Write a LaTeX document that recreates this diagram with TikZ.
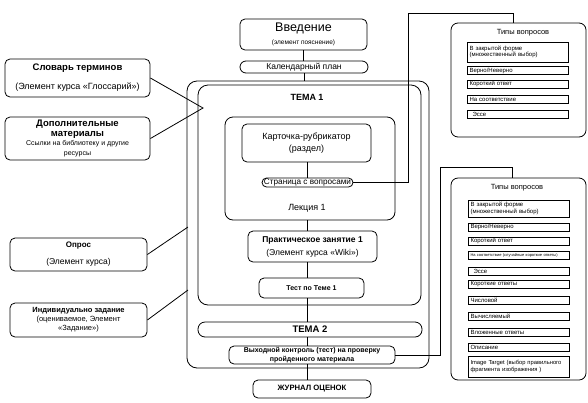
\documentclass[tikz,border=0pt]{standalone}
\usepackage{fontspec}
\setmainfont{Liberation Sans}

\tikzset{
  blok/.style={draw, rounded corners=5pt, line width=0.8pt, align=center, inner sep=0pt},
  ramka/.style={draw, rounded corners=10pt, line width=0.8pt, inner sep=0pt},
  punkt/.style={draw, line width=0.9pt, minimum width=101pt, minimum height=8pt, text width=96pt,
    inner xsep=2.5pt, inner ysep=0pt, align=left, font=\fontsize{6}{6.6}\selectfont},
}

\begin{document}
\begin{tikzpicture}[x=1pt, y=-1pt, line width=0.8pt]
\useasboundingbox (0,0) rectangle (588,402);

% Course frame, Tema 1, lecture
\node[ramka, minimum width=242, minimum height=287] (kurs) at (308,224.5) {};
\node[ramka, minimum width=223, minimum height=220] (tema1) at (309.5,195) {};
\node[font=\bfseries\fontsize{9}{10}\selectfont] (tema1txt) at (307,97) {ТЕМА 1};
\node[ramka, rounded corners=8pt, minimum width=170, minimum height=103] (lect) at (310,168.5) {};
\node[font=\fontsize{9}{10}\selectfont] (lecttxt) at (307,208) {Лекция 1};

% Main column
\node[blok, minimum width=127, minimum height=31] (vved) at (303.5,34.5)
  {{\fontsize{12.5}{13}\selectfont Введение}\\[1pt]{\fontsize{6.5}{7}\selectfont (элемент пояснение)}};
\node[blok, rounded corners=6pt, minimum width=128, minimum height=12, font=\fontsize{8.5}{9}\selectfont] (kal) at (304,67) {Календарный план};
\node[blok, minimum width=129, minimum height=38, font=\fontsize{9}{12}\selectfont] (kart) at (306.5,143) {Карточка-рубрикатор\\(раздел)};
\node[blok, rounded corners=4.5pt, minimum width=91, minimum height=9, font=\fontsize{8.2}{8.5}\selectfont] (stran) at (307.5,182.5) {Страница с вопросами};
\node[blok, minimum width=129, minimum height=31, font=\fontsize{8.5}{12}\selectfont] (prakt) at (312.5,246.5)
  {{\bfseries Практическое занятие 1}\\[1pt]{(Элемент курса «Wiki»)}};
\node[blok, minimum width=105, minimum height=20, font=\bfseries\fontsize{7}{8}\selectfont] (test) at (311.5,288) {Тест по Теме 1};
\node[blok, rounded corners=7pt, minimum width=224, minimum height=15, font=\bfseries\fontsize{9.5}{10}\selectfont] (tema2) at (310,329.5) {ТЕМА 2};
\node[blok, minimum width=166, minimum height=18, font=\bfseries\fontsize{7}{8.5}\selectfont] (vyh) at (312,355) {Выходной контроль (тест) на проверку\\пройденного материала};
\node[blok, minimum width=118, minimum height=18, font=\bfseries\fontsize{7.7}{8}\selectfont] (zhurn) at (312,389) {ЖУРНАЛ ОЦЕНОК};

% Left column
\node[blok, minimum width=145, minimum height=38, font=\fontsize{9}{12}\selectfont] (slov) at (77.5,78)
  {{\bfseries\fontsize{9.5}{12}\selectfont Словарь терминов}\\[7pt]{(Элемент курса «Глоссарий»)}};
\node[blok, minimum width=145, minimum height=43, font=\fontsize{7}{9.5}\selectfont] (dop) at (77.5,138.5)
  {{\bfseries\fontsize{9.5}{9.5}\selectfont Дополнительные}\\{\bfseries\fontsize{9.5}{9.5}\selectfont материалы}\\Ссылки на библиотеку и другие\\ресурсы};
\node[blok, minimum width=137, minimum height=33, font=\fontsize{8.5}{11}\selectfont] (opros) at (78.5,254.5)
  {{\bfseries\fontsize{8}{11}\selectfont Опрос}\\[6pt](Элемент курса)};
\node[blok, minimum width=137, minimum height=34, font=\fontsize{7.5}{9}\selectfont] (ind) at (78.5,320)
  {{\bfseries Индивидуально задание}\\(оцениваемое, Элемент\\«Задание»)};

% Question types 1
\node[blok, rounded corners=7pt, minimum width=135, minimum height=114] (typy1) at (518.5,80) {};
\node[font=\fontsize{7.5}{8}\selectfont] (typy1txt) at (523,33) {Типы вопросов};
\node[punkt, minimum height=20] (v1) at (517.5,52) {В закрытой форме\\(множественный выбор)};
\node[punkt] (v2) at (517.5,70.5) {Верно/Неверно};
\node[punkt] (v3) at (517.5,84) {Короткий ответ};
\node[punkt] (v4) at (517.5,99) {На соответствие};
\node[punkt] (v5) at (517.5,114.5) {\hspace{3pt}Эссе};

% Question types 2
\node[blok, rounded corners=7pt, minimum width=135, minimum height=202] (typy2) at (518.5,279) {};
\node[font=\fontsize{7.5}{8}\selectfont] (typy2txt) at (517,188) {Типы вопросов};
\node[punkt, minimum height=17] (w1) at (518.5,208.5) {В закрытой форме\\(множественный выбор)};
\node[punkt] (w2) at (518.5,227) {Верно/Неверно};
\node[punkt] (w3) at (518.5,241) {Короткий ответ};
\node[punkt, font=\fontsize{4}{4.5}\selectfont] (w4) at (518.5,255.5) {На соответствие (случайные короткие ответы)};
\node[punkt] (w5) at (518.5,271) {\hspace{3pt}Эссе};
\node[punkt] (w6) at (518.5,284.5) {Короткие ответы};
\node[punkt] (w7) at (518.5,300.5) {Числовой};
\node[punkt] (w8) at (518.5,316) {Вычисляемый};
\node[punkt] (w9) at (518.5,332.5) {Вложенные ответы};
\node[punkt] (w10) at (518.5,347) {Описание};
\node[punkt, minimum height=21, font=\fontsize{5.8}{7}\selectfont] (w11) at (518.5,366.5) {Image Target (выбор правильного фрагмента изображения )};

% Spine
\coordinate (os) at (307,0);
\draw (vved.south) -- (vved.south |- kal.north);
\draw (kal.south) -- (kal.south |- kurs.north);
\draw (kart.south -| os) -- (stran.north -| os);
\draw (lect.south -| os) -- (prakt.north -| os);
\draw (prakt.south -| os) -- (test.north -| os);
\draw (test.south -| os) -- (tema2.north -| os);
\draw (tema2.south -| os) -- (vyh.north -| os);
\draw (vyh.south -| os) -- (zhurn.north -| os);

% Left connectors
\coordinate (vhod) at (203,108);
\draw (slov.east) -- (vhod) -- (dop.east);
\coordinate (opros1) at (188,227);
\draw (opros.east) -- (opros1);
\coordinate (ind1) at (188,290);
\draw (ind.east) -- (ind1);

% Right connectors
\coordinate (sv1) at (408,13);
\coordinate (sv2) at (513,13);
\draw (stran.east) -| (sv1) -- (sv2) -- (sv2 |- typy1.north);
\coordinate (sv3) at (440,167);
\coordinate (sv4) at (512,167);
\draw (vyh.east) -| (sv3) -- (sv4) -- (sv4 |- typy2.north);

\end{tikzpicture}
\end{document}
